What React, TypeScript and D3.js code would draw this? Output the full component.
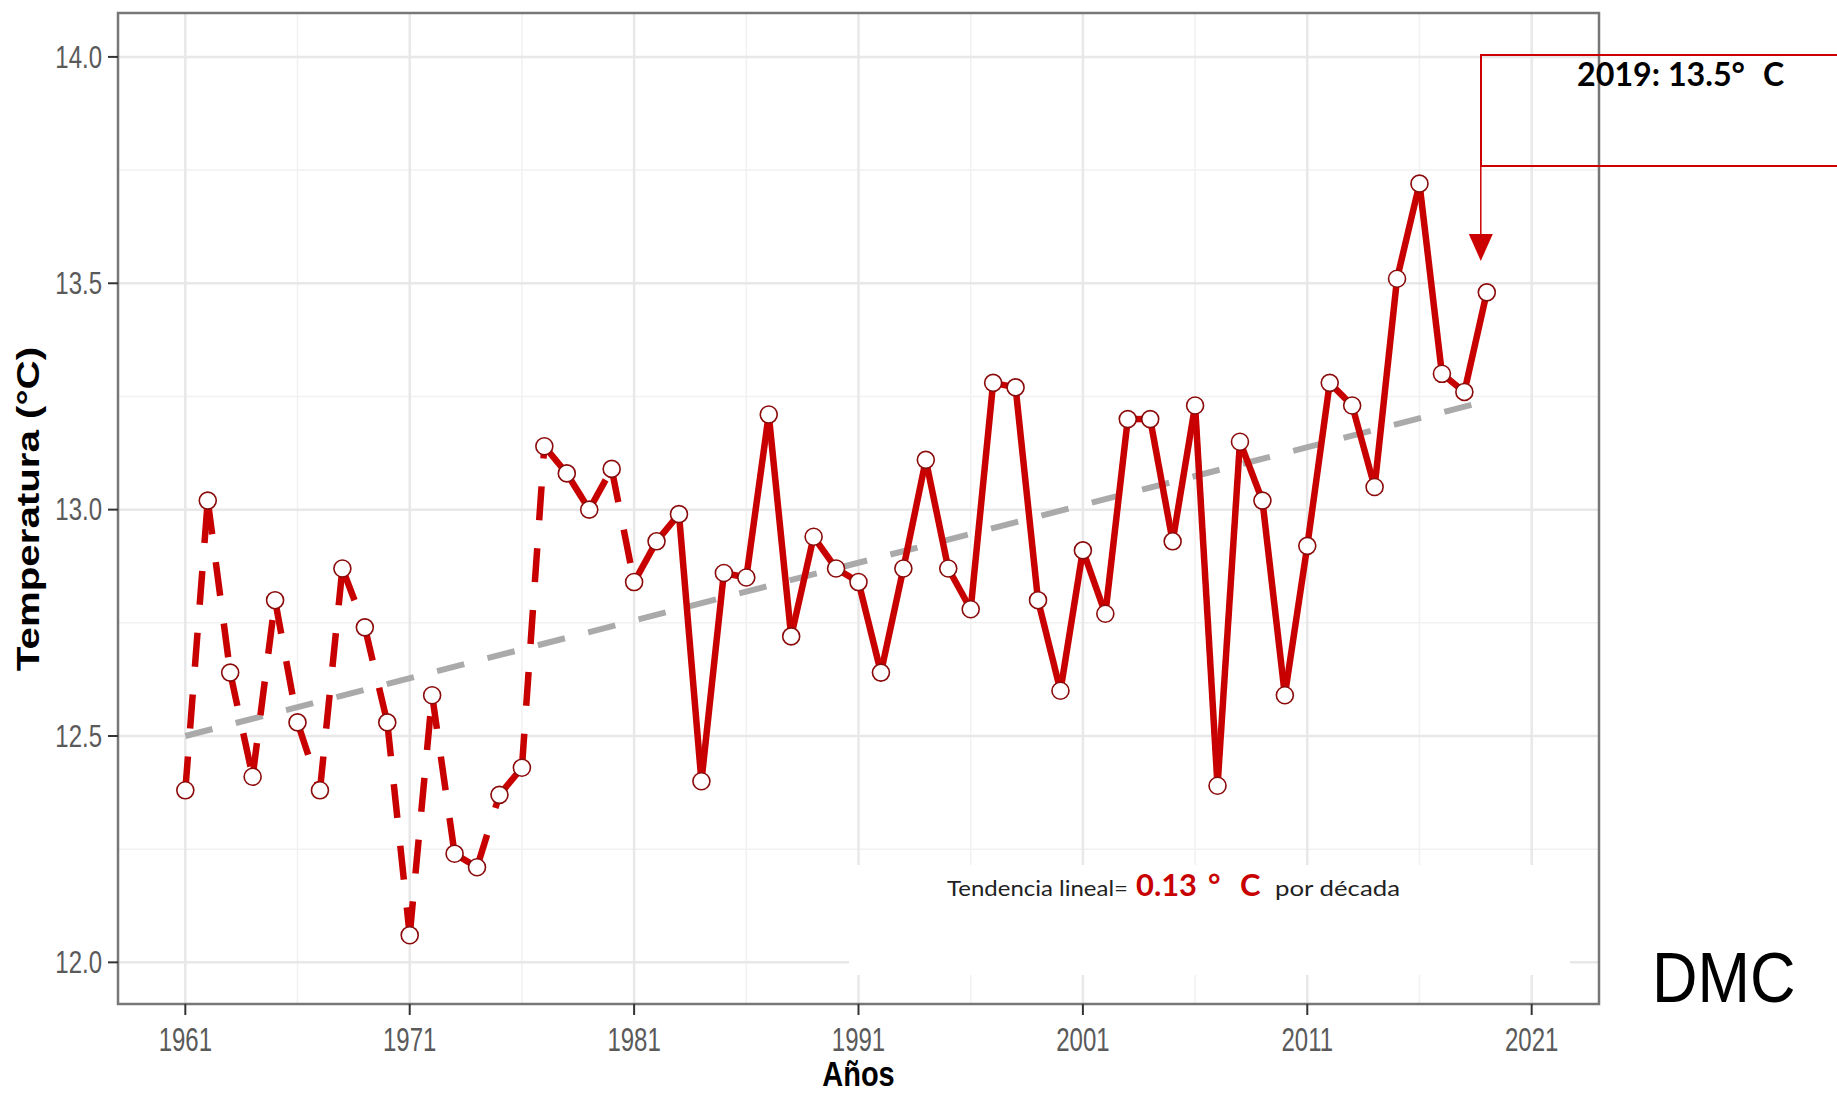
import React from "react";
import * as d3 from "d3";

// annual mean temperature
const years = [
  1961, 1962, 1963, 1964, 1965, 1966, 1967, 1968, 1969, 1970,
  1971, 1972, 1973, 1974, 1975, 1976, 1977, 1978, 1979, 1980,
  1981, 1982, 1983, 1984, 1985, 1986, 1987, 1988, 1989, 1990,
  1991, 1992, 1993, 1994, 1995, 1996, 1997, 1998, 1999, 2000,
  2001, 2002, 2003, 2004, 2005, 2006, 2007, 2008, 2009, 2010,
  2011, 2012, 2013, 2014, 2015, 2016, 2017, 2018, 2019,
];
const temps = [
  12.38, 13.02, 12.64, 12.41, 12.8, 12.53, 12.38, 12.87, 12.74, 12.53,
  12.06, 12.59, 12.24, 12.21, 12.37, 12.43, 13.14, 13.08, 13.0, 13.09,
  12.84, 12.93, 12.99, 12.4, 12.86, 12.85, 13.21, 12.72, 12.94, 12.87,
  12.84, 12.64, 12.87, 13.11, 12.87, 12.78, 13.28, 13.27, 12.8, 12.6,
  12.91, 12.77, 13.2, 13.2, 12.93, 13.23, 12.39, 13.15, 13.02, 12.59,
  12.92, 13.28, 13.23, 13.05, 13.51, 13.72, 13.3, 13.26, 13.48,
];
// segments up to this year are drawn dashed
const dashedUntil = 1981;

const trendYears = [1961, 2019];
const trendValues = [12.5, 13.24];

const xTicks = [1961, 1971, 1981, 1991, 2001, 2011, 2021];
const xMinor = [1966, 1976, 1986, 1996, 2006, 2016];
const yTicks = [12.0, 12.5, 13.0, 13.5, 14.0];
const yMinor = [12.25, 12.75, 13.25, 13.75];

const W = 1837;
const H = 1097;
const panel = { left: 118, right: 1599, top: 13, bottom: 1004 };

const red = "#c80000";
const font = "'Liberation Sans', Arial, sans-serif";
const gothic = "Lato, 'Open Sans', sans-serif";

export default function App() {
  const x = d3.scaleLinear().domain([1958, 2024]).range([panel.left, panel.right]);
  const y = d3.scaleLinear().domain([11.908, 14.097]).range([panel.bottom, panel.top]);

  const line = d3
    .line<[number, number]>()
    .x((d) => x(d[0]))
    .y((d) => y(d[1]));

  const points: [number, number][] = years.map((yr, i) => [yr, temps[i]]);
  const trend: [number, number][] = trendYears.map((yr, i) => [yr, trendValues[i]]);

  const lastX = x(years[years.length - 1]) - 6;

  return (
    <svg
      width={W}
      height={H}
      style={{ position: "absolute", left: 0, top: 0, display: "block", background: "#fff" }}
    >
      {/* grid */}
      {yMinor.map((v) => (
        <line key={"ym" + v} x1={panel.left} x2={panel.right} y1={y(v)} y2={y(v)} stroke="#f1f1f1" strokeWidth={1.5} />
      ))}
      {xMinor.map((v) => (
        <line key={"xm" + v} x1={x(v)} x2={x(v)} y1={panel.top} y2={panel.bottom} stroke="#f1f1f1" strokeWidth={1.5} />
      ))}
      {yTicks.map((v) => (
        <line key={"yg" + v} x1={panel.left} x2={panel.right} y1={y(v)} y2={y(v)} stroke="#e8e8e8" strokeWidth={2.5} />
      ))}
      {xTicks.map((v) => (
        <line key={"xg" + v} x1={x(v)} x2={x(v)} y1={panel.top} y2={panel.bottom} stroke="#e8e8e8" strokeWidth={2.5} />
      ))}

      {/* white box behind the trend note */}
      <rect x={849} y={865} width={721} height={110} fill="#fff" />

      {/* trend */}
      <path d={line(trend) || ""} fill="none" stroke="#aaaaaa" strokeWidth={6} strokeDasharray="28,24" />

      {/* series, segment by segment */}
      {points.slice(1).map((p, i) => {
        const prev = points[i];
        const dashed = p[0] <= dashedUntil;
        return (
          <path
            key={"s" + i}
            d={line([prev, p]) || ""}
            fill="none"
            stroke={red}
            strokeWidth={6.5}
            strokeDasharray={dashed ? "34,28" : undefined}
          />
        );
      })}
      {points.map((p) => (
        <circle key={"c" + p[0]} cx={x(p[0])} cy={y(p[1])} r={8.5} fill="#fff" stroke="#8b0a0a" strokeWidth={1.6} />
      ))}

      {/* panel border */}
      <rect
        x={panel.left}
        y={panel.top}
        width={panel.right - panel.left}
        height={panel.bottom - panel.top}
        fill="none"
        stroke="#777"
        strokeWidth={2.5}
      />

      {/* y axis */}
      {yTicks.map((v) => (
        <g key={"yt" + v}>
          <line x1={panel.left - 10} x2={panel.left} y1={y(v)} y2={y(v)} stroke="#333" strokeWidth={2} />
          <g transform={`translate(102,${y(v)}) scale(1,1.3)`}>
            <text textAnchor="end" dominantBaseline="central" fontFamily={font} fontSize={24} fill="#5a5a5a">
              {v.toFixed(1)}
            </text>
          </g>
        </g>
      ))}
      {/* x axis */}
      {xTicks.map((v) => (
        <g key={"xt" + v}>
          <line x1={x(v)} x2={x(v)} y1={panel.bottom} y2={panel.bottom + 11} stroke="#333" strokeWidth={2} />
          <g transform={`translate(${x(v)},1040) scale(1,1.35)`}>
            <text textAnchor="middle" dominantBaseline="central" fontFamily={font} fontSize={24} fill="#5a5a5a">
              {v}
            </text>
          </g>
        </g>
      ))}

      {/* axis titles */}
      <g transform={`translate(${(panel.left + panel.right) / 2},1086) scale(1,1.18)`}>
        <text textAnchor="middle" fontFamily={font} fontWeight="bold" fontSize={29} fill="#000">
          Años
        </text>
      </g>
      <g transform="translate(39,509) rotate(-90) scale(1.3,1)">
        <text textAnchor="middle" fontFamily={font} fontWeight="bold" fontSize={31} fill="#000">
          Temperatura (°C)
        </text>
      </g>

      {/* trend note */}
      <text y={896} fontFamily={gothic}>
        <tspan x={947} fontSize={22} fill="#222" textLength={181} lengthAdjust="spacingAndGlyphs">
          Tendencia lineal=
        </tspan>
        <tspan x={1136} fontSize={31} fontWeight="bold" fill={red} textLength={61} lengthAdjust="spacingAndGlyphs">
          0.13
        </tspan>
        <tspan x={1208} fontSize={30} fontWeight="bold" fill={red}>
          °
        </tspan>
        <tspan x={1240} fontSize={31} fontWeight="bold" fill={red}>
          C
        </tspan>
        <tspan x={1275} fontSize={22} fill="#222" textLength={125} lengthAdjust="spacingAndGlyphs">
          por década
        </tspan>
      </text>

      {/* 2019 callout */}
      <rect x={1481} y={55} width={400} height={111} fill="none" stroke="#cc0000" strokeWidth={2} />
      <line x1={lastX} x2={lastX} y1={166} y2={236} stroke="#cc0000" strokeWidth={1.5} />
      <path d={`M${lastX - 12},234 L${lastX + 12},234 L${lastX},261 Z`} fill="#cc0000" />
      <text y={86} fontFamily={gothic} fontWeight="bold" fontSize={32} fill="#000">
        <tspan x={1577} textLength={168} lengthAdjust="spacingAndGlyphs">
          2019: 13.5°
        </tspan>
        <tspan x={1763}>C</tspan>
      </text>

      <g transform="translate(1652,1002) scale(1,1.13)">
        <text fontFamily={font} fontSize={63} fill="#000">
          DMC
        </text>
      </g>
    </svg>
  );
}
